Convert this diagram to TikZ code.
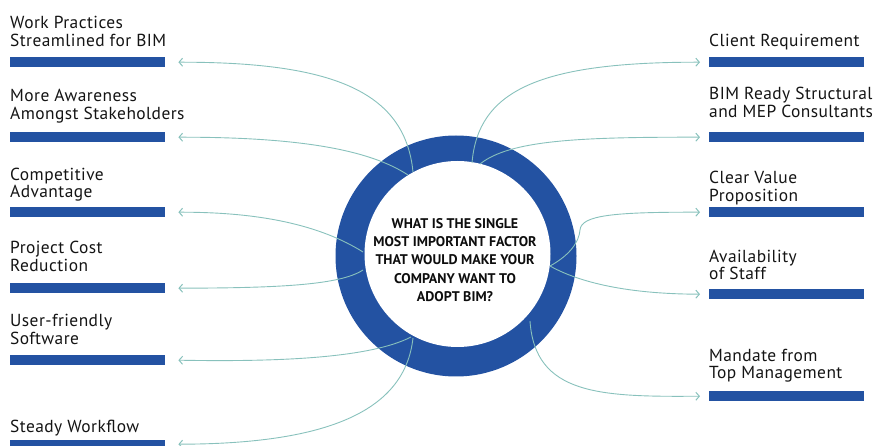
\documentclass[tikz,border=0pt]{standalone}
\usepackage{fontspec}
\setmainfont{PT Sans}
\newfontfamily\lblfont[LetterSpace=2.5]{PT Sans}
\usetikzlibrary{arrows.meta}
\definecolor{bimblue}{HTML}{2352A2}
\definecolor{linkteal}{HTML}{88C1BC}
\begin{document}
\begin{tikzpicture}[x=1pt,y=-1pt,
  bar/.style={fill=bimblue, draw=none, inner sep=0pt, minimum width=155pt, minimum height=10pt, anchor=north west},
  lbl/.style={inner sep=0pt, anchor=base west, font=\lblfont\fontsize{17.4}{18}\selectfont, text=black!92},
  link/.style={draw=linkteal, line width=0.9pt, -{Straight Barb[length=3.5pt,width=8pt,line width=1pt]}}]
\useasboundingbox (0,0) rectangle (876,446);
% ring
\fill[bimblue] (456,256) circle[radius=120.5pt];
\fill[white] (457.5,254) circle[radius=93pt];
\node[align=center, inner sep=0pt, font=\fontsize{14}{18.4}\selectfont\bfseries, text=black!95] (q) at (455,260)
  {WHAT IS THE SINGLE\\MOST IMPORTANT FACTOR\\THAT WOULD MAKE YOUR\\COMPANY WANT TO\\ADOPT BIM?};
% left bars
\node[bar] (bl1) at (10,57) {};
\node[bar] (bl2) at (10,132) {};
\node[bar] (bl3) at (10,207) {};
\node[bar] (bl4) at (10,283) {};
\node[bar] (bl5) at (10,355) {};
\node[bar] (bl6) at (10,440) {};
% right bars
\node[bar] (br1) at (709,57) {};
\node[bar] (br2) at (709,132) {};
\node[bar] (br3) at (709,207) {};
\node[bar] (br4) at (709,289) {};
\node[bar] (br5) at (709,391) {};
% left labels
\node[lbl] (tl1a) at (10,29) {Work Practices};
\node[lbl] (tl1b) at (10,46.5) {Streamlined for BIM};
\node[lbl] (tl2a) at (10,101.7) {More Awareness};
\node[lbl] (tl2b) at (10,119.5) {Amongst Stakeholders};
\node[lbl] (tl3a) at (10,180.7) {Competitive};
\node[lbl] (tl3b) at (10,198) {Advantage};
\node[lbl] (tl4a) at (10,254) {Project Cost};
\node[lbl] (tl4b) at (10,271.7) {Reduction};
\node[lbl] (tl5a) at (10,327) {User-friendly};
\node[lbl] (tl5b) at (10,345) {Software};
\node[lbl] (tl6a) at (10,432) {Steady Workflow};
% right labels
\node[lbl] (tr1a) at (709,47) {Client Requirement};
\node[lbl] (tr2a) at (709,100) {BIM Ready Structural};
\node[lbl] (tr2b) at (709,117.5) {and MEP Consultants};
\node[lbl] (tr3a) at (709,184) {Clear Value};
\node[lbl] (tr3b) at (709,202) {Proposition};
\node[lbl] (tr4a) at (709,263) {Availability};
\node[lbl] (tr4b) at (709,280) {of Staff};
\node[lbl] (tr5a) at (709,362) {Mandate from};
\node[lbl] (tr5b) at (709,379) {Top Management};
% start points on the inner circle
\coordinate (sL1) at (413,172);
\coordinate (sL2) at (408,175);
\coordinate (sL3) at (363,252);
\coordinate (sL4) at (363,270);
\coordinate (sL5) at (411,337);
\coordinate (sL6) at (413,338);
\coordinate (sR1) at (472,163);
\coordinate (sR2) at (480,164);
\coordinate (sR3) at (550,266);
\coordinate (sR5) at (530,321);
% connectors
\draw[link] (sL1) .. controls (405,90) and (330,62) .. ([xshift=13pt]bl1.east);
\draw[link] (sL2) .. controls (370,150) and (300,137) .. ([xshift=13pt]bl2.east);
\draw[link] (sL3) .. controls (320,225) and (260,212) .. ([xshift=13pt]bl3.east);
\draw[link] (sL4) .. controls (340,285) and (280,288) .. ([xshift=13pt]bl4.east);
\draw[link] (sL5) .. controls (370,358) and (280,362) .. ([xshift=13pt]bl5.east);
\draw[link] (sL6) .. controls (405,410) and (330,444) .. ([xshift=13pt,yshift=1pt]bl6.east);
\draw[link] (sR1) .. controls (478,90) and (540,62) .. ([xshift=-9pt]br1.west);
\draw[link] (sR2) .. controls (510,140) and (580,137) .. ([xshift=-9pt]br2.west);
\draw[link] (sR3) .. controls (570,255) and (579,242) .. (580,230) .. controls (581,215) and (615,212) .. ([xshift=-9pt]br3.west);
\draw[link] (sR3) .. controls (575,280) and (620,294) .. ([xshift=-9pt]br4.west);
\draw[link] (sR5) .. controls (535,395) and (600,397) .. ([xshift=-9pt]br5.west);
\end{tikzpicture}
\end{document}
